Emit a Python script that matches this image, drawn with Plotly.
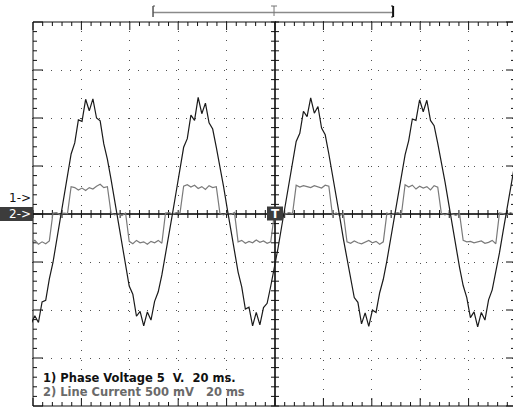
import plotly.graph_objects as go

# ---------------- data (screen divisions; 20 ms/div) ----------------
SAMPLE_MS = 1.5          # scope sample interval
FIRST_SAMPLE_MS = -0.75  # time of first sample

# Channel 1: Phase Voltage (5 V/div), values in divisions
phase_voltage_div = [
    -2.28, -2.12, -2.26, -1.83, -1.80, -1.35, -1.01, -0.57, -0.12, 0.34,
    0.79, 1.25, 1.48, 1.96, 1.93, 2.39, 2.15, 2.40, 2.00, 1.94,
    1.46, 1.14, 0.72, 0.27, -0.19, -0.64, -1.07, -1.50, -1.67, -2.13,
    -2.03, -2.33, -2.04, -2.21, -1.82, -1.62, -1.27, -0.86, -0.42, 0.04,
    0.49, 0.93, 1.39, 1.57, 2.06, 1.95, 2.43, 2.09, 2.31, 1.90,
    1.77, 1.39, 1.00, 0.57, 0.11, -0.35, -0.79, -1.21, -1.52, -1.98,
    -1.94, -2.33, -2.05, -2.31, -1.95, -1.86, -1.50, -1.13, -0.71, -0.26,
    0.20, 0.66, 1.08, 1.51, 1.68, 2.14, 2.03, 2.42, 2.10, 2.24,
    1.79, 1.65, 1.25, 0.84, 0.40, -0.06, -0.52, -0.95, -1.35, -1.74,
    -1.84, -2.29, -2.06, -2.34, -2.00, -2.05, -1.64, -1.36, -0.97, -0.54,
    -0.08, 0.38, 0.82, 1.23, 1.53, 1.98, 1.95, 2.38, 2.13, 2.37,
    1.95, 1.84, 1.47, 1.10, 0.67, 0.22, -0.24, -0.69, -1.11, -1.49,
    -1.74, -2.16, -2.04, -2.35, -2.05, -2.21, -1.79, -1.58, -1.22, -0.81,
    -0.36, 0.10, 0.56, 0.99, 1.38,
]

# Channel 2: Line Current (500 mV/div), values in divisions
line_current_div = [
    -0.60, -0.55, -0.63, -0.58, -0.62, -0.56, 0.02, 0.03, -0.02, 0.02,
    0.01, 0.57, 0.55, 0.50, 0.54, 0.49, 0.55, 0.52, 0.58, 0.62,
    0.55, 0.57, 0.02, -0.02, 0.01, -0.03, 0.02, -0.57, -0.62, -0.55,
    -0.60, -0.58, -0.63, -0.57, -0.60, -0.55, -0.61, 0.02, 0.03, 0.00,
    0.03, 0.02, 0.58, 0.61, 0.56, 0.60, 0.53, 0.57, 0.51, 0.59,
    0.55, 0.57, 0.01, -0.02, 0.02, -0.01, 0.03, -0.58, -0.55, -0.61,
    -0.57, -0.60, -0.54, -0.59, -0.56, -0.61, -0.58, 0.01, -0.02, 0.02,
    0.00, 0.03, 0.01, 0.60, 0.56, 0.59, 0.57, 0.55, 0.59, 0.56,
    0.54, 0.60, 0.58, -0.02, 0.02, -0.03, 0.01, -0.58, -0.61, -0.56,
    -0.60, -0.62, -0.58, -0.55, -0.60, -0.57, -0.63, -0.58, 0.02, -0.02,
    0.01, 0.03, 0.00, 0.61, 0.56, 0.60, 0.52, 0.58, 0.54, 0.57,
    0.50, 0.59, 0.56, 0.01, -0.02, 0.02, 0.00, -0.03, 0.01, -0.55,
    -0.58, -0.57, -0.60, -0.58, -0.56, -0.61, -0.59, -0.55, -0.62, 0.02,
    0.01, -0.02, 0.03, 0.00, 0.58,
]

label_ch1 = "1) Phase Voltage 5\u00a0\u00a0V.\u00a0\u00a020 ms."
label_ch2 = "2) Line Current 500 mV\u00a0\u00a0\u00a020 ms"

t_ms = [FIRST_SAMPLE_MS + i * SAMPLE_MS for i in range(len(phase_voltage_div))]

# ---------------- geometry ----------------
W, H = 513, 407
ML, MT = 32, 21
DIV_PX_X, DIV_PX_Y = 48.4, 48.0
MS_PER_PX = 20 / DIV_PX_X
DIV_PER_PX = 1 / DIV_PX_Y
PW, PH = W - ML, H - MT
x_range = [-1 * MS_PER_PX, -1 * MS_PER_PX + PW * MS_PER_PX]
y_range = [-4 - DIV_PER_PX, -4 - DIV_PER_PX + PH * DIV_PER_PX]


def pxx(p):  # pixel x -> paper
    return (p - ML) / PW


def pxy(p):  # pixel y -> paper
    return (H - p) / PH


fig = go.Figure()

# ---------- frame + ticks ----------
fx, fy = [], []
cx, cy = [], []


def seg(L, a, b, c, d):
    L[0].extend([a, c, None])
    L[1].extend([b, d, None])


F = (fx, fy)
C = (cx, cy)
X_END = 200.0
seg(F, 0, -4, 0, 4)
seg(F, 0, 4, X_END, 4)
seg(F, 0, -4, X_END, -4)
for i in range(51):
    x = i * 4.0
    major = i % 5 == 0
    L = (8 if major else 4) * DIV_PER_PX
    seg(F, x, 4, x, 4 - L)
    seg(F, x, -4, x, -4 + L)
    Lc = 4 * DIV_PER_PX
    seg(F, x, -Lc, x, Lc)
for j in range(41):
    y = -4 + j * 0.2
    major = j % 5 == 0
    L = (10 if major else 4) * MS_PER_PX
    seg(F, 0, y, L, y)
    seg(F, X_END, y, X_END - (11 if major else 6) * MS_PER_PX, y)
    Lc = 4 * MS_PER_PX
    seg(F, 100 - Lc, y, 100 + Lc, y)
seg(C, 0, 0, X_END, 0)
seg(C, 100, -4, 100, 4)

fig.add_trace(go.Scatter(x=cx, y=cy, mode="lines", line=dict(color="#3a3a3a", width=2),
                         hoverinfo="skip", showlegend=False))
fig.add_trace(go.Scatter(x=fx, y=fy, mode="lines", line=dict(color="#111111", width=1),
                         hoverinfo="skip", showlegend=False))

# ---------- waveforms ----------
fig.add_trace(go.Scatter(x=t_ms, y=line_current_div, mode="lines",
                         line=dict(color="#7a7a7a", width=1.2), name="Line Current",
                         showlegend=False))
fig.add_trace(go.Scatter(x=t_ms, y=phase_voltage_div, mode="lines",
                         line=dict(color="#1a1a1a", width=1.2), name="Phase Voltage",
                         showlegend=False))

shapes = []
annotations = []

# ---------- top memory bracket ----------
bx0, bxT, bx1 = 49.6, 99.6, 148.8
gy = pxy(12.5)
shapes += [
    dict(type="line", xref="x", yref="paper", x0=bx0, x1=bx1, y0=gy, y1=gy,
         line=dict(color="#8a8a8a", width=1.5)),
    dict(type="line", xref="x", yref="paper", x0=bx0, x1=bx0, y0=pxy(6), y1=pxy(17),
         line=dict(color="#555555", width=1.5)),
    dict(type="line", xref="x", yref="paper", x0=bx0, x1=bx0 + 2 * MS_PER_PX, y0=pxy(6), y1=pxy(6),
         line=dict(color="#555555", width=1)),
    dict(type="line", xref="x", yref="paper", x0=bx1, x1=bx1, y0=pxy(6), y1=pxy(17),
         line=dict(color="#111111", width=2)),
    dict(type="line", xref="x", yref="paper", x0=bx1 - 2 * MS_PER_PX, x1=bx1, y0=pxy(6), y1=pxy(6),
         line=dict(color="#111111", width=1)),
    dict(type="line", xref="x", yref="paper", x0=bx1 - 2 * MS_PER_PX, x1=bx1, y0=pxy(17), y1=pxy(17),
         line=dict(color="#111111", width=1)),
    dict(type="line", xref="x", yref="paper", x0=bxT, x1=bxT, y0=pxy(6), y1=pxy(16),
         line=dict(color="#777777", width=1)),
    dict(type="line", xref="x", yref="paper", x0=bxT - 3 * MS_PER_PX, x1=bxT + 3 * MS_PER_PX,
         y0=pxy(6), y1=pxy(6), line=dict(color="#777777", width=1)),
]

# ---------- channel markers ----------
shapes.append(dict(type="rect", xref="paper", yref="paper", x0=pxx(0), x1=pxx(33),
                   y0=pxy(207), y1=pxy(221), fillcolor="#3c3c3c", line=dict(width=0),
                   layer="above"))
shapes.append(dict(type="rect", xref="paper", yref="paper", x0=pxx(267), x1=pxx(283),
                   y0=pxy(206.5), y1=pxy(220.5), fillcolor="#3c3c3c", line=dict(width=0),
                   layer="above"))
FONT = "DejaVu Sans, Arial, Liberation Sans"
annotations += [
    dict(text="1->", xref="paper", yref="paper", x=pxx(7), y=pxy(198), xanchor="left",
         yanchor="middle", showarrow=False, font=dict(family=FONT, size=12, color="#111111")),
    dict(text="2->", xref="paper", yref="paper", x=pxx(7), y=pxy(214), xanchor="left",
         yanchor="middle", showarrow=False, font=dict(family=FONT, size=12, color="#ffffff")),
    dict(text="<b>T</b>", xref="paper", yref="paper", x=pxx(275), y=pxy(213.5), xanchor="center",
         yanchor="middle", showarrow=False, font=dict(family=FONT, size=12, color="#ffffff")),
    dict(text="<b>" + label_ch1 + "</b>", xref="paper", yref="paper", x=pxx(41), y=pxy(378),
         xanchor="left", yanchor="middle", showarrow=False,
         font=dict(family=FONT, size=11.5, color="#111111")),
    dict(text="<b>" + label_ch2 + "</b>", xref="paper", yref="paper", x=pxx(41), y=pxy(392),
         xanchor="left", yanchor="middle", showarrow=False,
         font=dict(family=FONT, size=11.5, color="#6a6a6a")),
]

fig.update_layout(
    width=W, height=H,
    margin=dict(l=ML, r=0, t=MT, b=0, pad=0),
    paper_bgcolor="white", plot_bgcolor="white",
    shapes=shapes, annotations=annotations,
    showlegend=False,
    xaxis=dict(range=x_range, showgrid=True, dtick=20, tick0=0, gridcolor="#505050",
               gridwidth=1, griddash="1px,8.68px", zeroline=False, showticklabels=False,
               ticks="", showline=False, fixedrange=True),
    yaxis=dict(range=y_range, showgrid=True, dtick=1, tick0=0, gridcolor="#505050",
               gridwidth=1, griddash="1px,8.6px", zeroline=False, showticklabels=False,
               ticks="", showline=False, fixedrange=True),
)

fig.write_html("out.html")
